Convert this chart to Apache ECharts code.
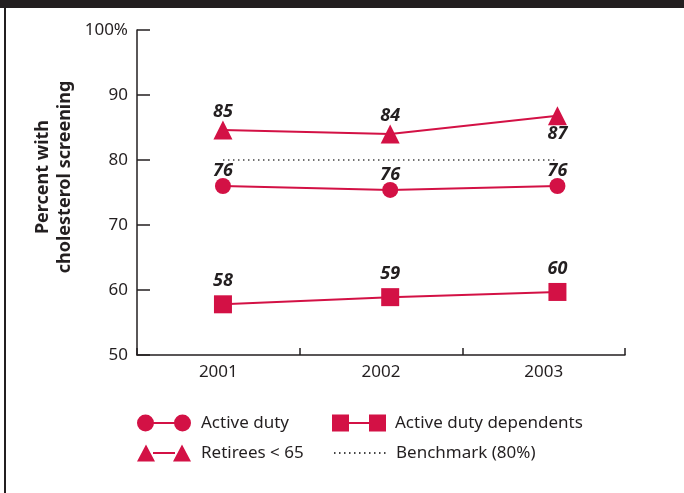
<!DOCTYPE html>
<html>
<head>
<meta charset="utf-8">
<script src="https://cdn.jsdelivr.net/npm/echarts@6/dist/echarts.min.js"></script>
<style>html,body{margin:0;padding:0;background:#fff}#c{width:684px;height:493px}</style>
</head>
<body>
<div id="c"></div>
<script>
var years = ['2001', '2002', '2003'];
var activeDuty = [76.0, 75.4, 76.0];
var activeDutyLabels = [76, 76, 76];
var dependents = [57.8, 58.9, 59.7];
var dependentsLabels = [58, 59, 60];
var retirees = [84.6, 84.0, 86.8];
var retireesLabels = [85, 84, 87];
var benchmark = [80, 80, 80];
var yTicks = [50, 60, 70, 80, 90, 100];

var INK = '#231f20';
var RED = '#d31145';
var FONT = '"Noto Sans", "Open Sans", sans-serif';

var circleIcon = 'path://M0,8.5A8.5,8.5,0,1,1,17,8.5A8.5,8.5,0,1,1,0,8.5Z M16,7.5L38,7.5L38,9.5L16,9.5Z M37,8.5A8.5,8.5,0,1,1,54,8.5A8.5,8.5,0,1,1,37,8.5Z';
var squareIcon = 'path://M0,0L17,0L17,17L0,17Z M16,7.5L38,7.5L38,9.5L16,9.5Z M37,0L54,0L54,17L37,17Z';
var triIcon = 'path://M0,17L9,0L18,17Z M16,7.5L38,7.5L38,9.5L16,9.5Z M36,17L45,0L54,17Z';

function pts(vals, posFn) {
  return vals.map(function (v, i) {
    var item = { value: [Number(years[i]), v] };
    if (posFn) { var p = posFn(i); if (p) item.label = p; }
    return item;
  });
}

var labelBase = {
  show: true, fontFamily: FONT, fontSize: 18, fontWeight: 'bold', fontStyle: 'italic', color: INK
};

function lbl(labels, extra) {
  return Object.assign({}, labelBase, extra, {
    formatter: function (p) { return String(labels[p.dataIndex]); }
  });
}

var chart = echarts.init(document.getElementById('c'), null, { renderer: 'canvas' });
var legendText = { fontFamily: FONT, fontSize: 17, color: INK, padding: [0, 0, 0, 4] };
var legendCommon = { orient: 'horizontal', padding: 0, itemHeight: 17, selectedMode: false,
  textStyle: legendText, itemStyle: { borderWidth: 0 } };

chart.setOption({
  animation: false,
  backgroundColor: '#fff',
  grid: { left: 137, right: 59, top: 30, bottom: 138, containLabel: false },
  xAxis: [{
    type: 'category', data: years, boundaryGap: true,
    axisLine: { show: true, lineStyle: { color: INK, width: 1.5 } },
    axisTick: { show: true, inside: true, length: 7, lineStyle: { color: INK, width: 1.5 } },
    axisLabel: { fontFamily: FONT, fontSize: 17, color: INK, margin: 9 },
    splitLine: { show: false }
  }, {
    type: 'value', show: false, min: 2000.486, max: 2003.404,
    position: 'bottom'
  }],
  yAxis: {
    type: 'value', min: 50, max: 100, interval: 10,
    axisLine: { show: true, lineStyle: { color: INK, width: 1.5 } },
    axisTick: { show: true, inside: true, length: 13, lineStyle: { color: INK, width: 1.5 } },
    axisLabel: { fontFamily: FONT, fontSize: 17, color: INK, margin: 9,
      formatter: function (v) { return v === 100 ? '100%' : String(v); } },
    splitLine: { show: false }
  },
  legend: [
    Object.assign({}, legendCommon, { left: 137, top: 414.5, itemWidth: 56,
      data: [{ name: 'Active duty', icon: circleIcon }] }),
    Object.assign({}, legendCommon, { left: 332, top: 414.5, itemWidth: 54,
      data: [{ name: 'Active duty dependents', icon: squareIcon }] }),
    Object.assign({}, legendCommon, { left: 137, top: 444.5, itemWidth: 56,
      data: [{ name: 'Retirees < 65', icon: triIcon }] }),
    Object.assign({}, legendCommon, { left: 333, top: 444.5, itemWidth: 52,
      textStyle: { fontFamily: FONT, fontSize: 17, color: INK, padding: [0, 0, 0, 5] },
      data: [{ name: 'Benchmark (80%)' }] })
  ],
  graphic: [
    { type: 'rect', shape: { x: 0, y: 0, width: 684, height: 8 }, style: { fill: INK }, silent: true },
    { type: 'rect', shape: { x: 4, y: 0, width: 2, height: 493 }, style: { fill: INK }, silent: true },
    { type: 'text', x: 54, y: 177, rotation: Math.PI / 2, silent: true,
      style: { text: 'Percent with\ncholesterol screening', fontFamily: FONT, fontSize: 18,
        fontWeight: 'bold', fill: INK, align: 'center', verticalAlign: 'middle', lineHeight: 22 } }
  ],
  series: [
    { name: 'Benchmark (80%)', type: 'line', xAxisIndex: 1, symbol: 'none', silent: true,
      data: benchmark.map(function (v, i) { return [Number(years[i]), v]; }),
      lineStyle: { color: '#444', width: 1.5, type: [1.5, 3.5] },
      itemStyle: { color: 'rgba(0,0,0,0)', opacity: 0 }, z: 1 },
    { name: 'Active duty', type: 'line', xAxisIndex: 1, symbol: 'circle', symbolSize: 16,
      data: pts(activeDuty), lineStyle: { color: RED, width: 2 }, itemStyle: { color: RED, borderWidth: 0 },
      label: lbl(activeDutyLabels, { position: 'top', distance: -1.5 }), emphasis: { disabled: true }, z: 3 },
    { name: 'Active duty dependents', type: 'line', xAxisIndex: 1, symbol: 'rect', symbolSize: 18,
      data: pts(dependents), lineStyle: { color: RED, width: 2 }, itemStyle: { color: RED, borderWidth: 0 },
      label: lbl(dependentsLabels, { position: 'top', distance: 5 }), emphasis: { disabled: true }, z: 3 },
    { name: 'Retirees < 65', type: 'line', xAxisIndex: 1, symbol: 'triangle', symbolSize: 19,
      data: pts(retirees, function (i) { return i === retirees.length - 1 ? { position: 'bottom' } : null; }),
      lineStyle: { color: RED, width: 2 }, itemStyle: { color: RED, borderWidth: 0 },
      label: lbl(retireesLabels, { position: 'top', distance: 0 }), emphasis: { disabled: true }, z: 3 }
  ]
});
</script>
</body>
</html>
